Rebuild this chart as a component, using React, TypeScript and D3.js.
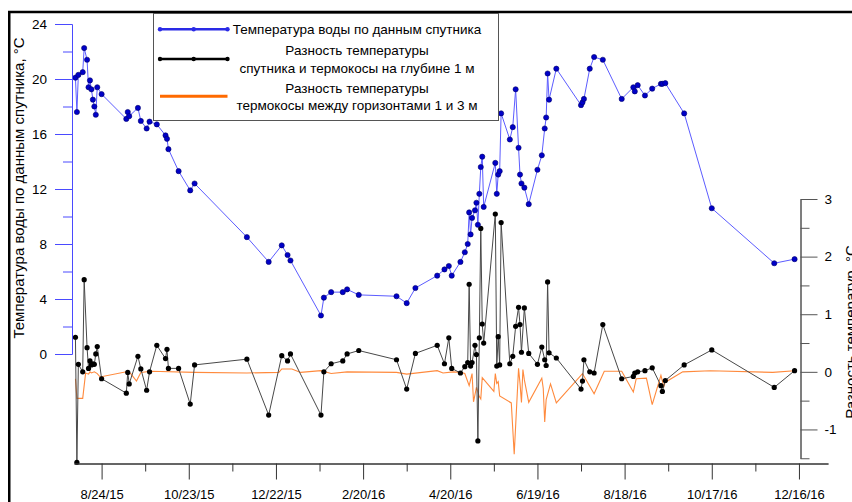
import { useEffect, useRef } from "react";
import * as d3 from "d3";

// sampling dates shared by the satellite series and the satellite - chain difference
const sampleDates = [
  "2015-08-06", "2015-08-07", "2015-08-08", "2015-08-11", "2015-08-12", "2015-08-14",
  "2015-08-15", "2015-08-16", "2015-08-17", "2015-08-18", "2015-08-19", "2015-08-20",
  "2015-08-21", "2015-08-24", "2015-09-10", "2015-09-11", "2015-09-12", "2015-09-18",
  "2015-09-20", "2015-09-24", "2015-09-26", "2015-10-01", "2015-10-07", "2015-10-08",
  "2015-10-09", "2015-10-16", "2015-10-24", "2015-10-27", "2015-12-02", "2015-12-17",
  "2015-12-26", "2015-12-30", "2016-01-01", "2016-01-22", "2016-01-24", "2016-01-29",
  "2016-02-06", "2016-02-09", "2016-02-17", "2016-03-14", "2016-03-21", "2016-03-27",
  "2016-04-11", "2016-04-16", "2016-04-19", "2016-04-21", "2016-04-27", "2016-04-30",
  "2016-05-02", "2016-05-03", "2016-05-04", "2016-05-05", "2016-05-07", "2016-05-08",
  "2016-05-09", "2016-05-10", "2016-05-11", "2016-05-12", "2016-05-13", "2016-05-21",
  "2016-05-22", "2016-05-23", "2016-05-24", "2016-05-25", "2016-05-31", "2016-06-02",
  "2016-06-04", "2016-06-06", "2016-06-07", "2016-06-08", "2016-06-10", "2016-06-13",
  "2016-06-19", "2016-06-22", "2016-06-24", "2016-06-25", "2016-06-26", "2016-06-27",
  "2016-07-02", "2016-07-19", "2016-07-20", "2016-07-21", "2016-07-25", "2016-07-28",
  "2016-08-03", "2016-08-16", "2016-08-24", "2016-08-25", "2016-08-27", "2016-09-01",
  "2016-09-06", "2016-09-12", "2016-09-13", "2016-09-15", "2016-09-28", "2016-10-17",
  "2016-11-29", "2016-12-13",
];

// satellite water temperature, °C (left axis)
const satTemp = [
  20.1, 17.6, 20.3, 20.5, 22.25, 21.4, 19.4, 19.9, 19.25, 18.5, 18.0, 17.4,
  19.4, 18.9, 17.1, 17.6, 17.3, 17.9, 16.95, 16.4, 16.9, 16.7, 15.9, 15.65,
  14.9, 13.3, 11.9, 12.4, 8.5, 6.7, 7.9, 7.2, 6.8, 2.8, 4.1, 4.5,
  4.5, 4.7, 4.3, 4.2, 3.7, 4.8, 5.7, 6.15, 6.4, 5.7, 6.7, 7.4,
  8.0, 10.3, 8.7, 9.9, 10.45, 11.0, 9.4, 11.65, 13.6, 14.35, 10.7, 13.9,
  11.65, 13.05, 13.3, 17.5, 15.6, 16.5, 19.25, 15.0, 13.05, 12.4, 12.1, 10.9,
  13.4, 14.45, 16.4, 17.2, 20.4, 18.5, 20.75, 18.1, 18.3, 18.55, 20.75, 21.6,
  21.4, 18.55, 19.4, 19.1, 19.55, 18.8, 19.3, 19.65, 19.65, 19.7, 17.5, 10.6,
  6.6, 6.9,
];

// satellite minus chain at 1 m, °C (right axis)
const diffSat1m = [
  0.6, -1.57, 0.13, 0.0, 1.6, 0.42, 0.06, 0.19, 0.12, 0.14, 0.13, 0.31,
  0.44, -0.12, -0.37, -0.01, -0.21, 0.27, 0.05, -0.32, 0.0, 0.46, 0.23, 0.39,
  0.06, 0.06, -0.56, 0.12, 0.22, -0.75, 0.28, 0.19, 0.31, -0.75, 0.0, 0.14,
  0.19, 0.31, 0.37, 0.21, -0.3, 0.32, 0.46, 0.14, 0.59, 0.06, -0.02, 0.09,
  0.16, 1.52, 0.1, 0.16, 0.46, 0.3, -1.2, 0.59, 2.49, 0.83, 0.5, 2.74,
  0.1, 0.61, 0.12, 2.59, 0.14, 0.27, 0.79, 1.12, 0.82, 0.34, 1.11, 0.32,
  0.13, 0.43, 0.21, 0.11, 1.56, 0.33, 0.24, -0.3, -0.16, 0.21, 0.0, -0.02,
  0.82, -0.12, -0.08, -0.02, 0.0, 0.02, 0.07, -0.24, -0.34, -0.15, 0.12, 0.38,
  -0.27, 0.02,
];

// chain difference between 1 m and 3 m, °C (right axis)
const chainDates = [
  "2015-08-06", "2015-08-07", "2015-08-11", "2015-08-13", "2015-08-15", "2015-08-16",
  "2015-08-17", "2015-08-19", "2015-08-21", "2015-08-23", "2015-09-10", "2015-09-13",
  "2015-09-17", "2015-09-20", "2015-09-27", "2015-10-27", "2015-12-02", "2015-12-24",
  "2015-12-26", "2016-01-02", "2016-01-08", "2016-01-22", "2016-01-29", "2016-02-09",
  "2016-03-14", "2016-03-21", "2016-04-11", "2016-04-15", "2016-04-22", "2016-04-27",
  "2016-04-30", "2016-05-03", "2016-05-05", "2016-05-06", "2016-05-08", "2016-05-10",
  "2016-05-11", "2016-05-12", "2016-05-20", "2016-05-21", "2016-05-22", "2016-05-23",
  "2016-05-24", "2016-06-01", "2016-06-03", "2016-06-06", "2016-06-07", "2016-06-08",
  "2016-06-09", "2016-06-10", "2016-06-13", "2016-06-22", "2016-06-23", "2016-06-24",
  "2016-06-25", "2016-06-28", "2016-07-02", "2016-07-20", "2016-07-28", "2016-08-04",
  "2016-08-16", "2016-08-24", "2016-08-26", "2016-09-02", "2016-09-06", "2016-09-12",
  "2016-09-14", "2016-09-15", "2016-09-27", "2016-10-16", "2016-11-28", "2016-12-13",
];
const diffChain13 = [
  -0.12, -0.46, -0.46, -0.02, -0.04, 0.0, -0.02, 0.0, -0.03, -0.09, 0.0, -0.03,
  -0.16, -0.01, 0.01, -0.01, -0.02, -0.01, 0.05, 0.05, -0.01, 0.02, -0.03, 0.0,
  -0.01, -0.04, 0.02, -0.02, 0.0, -0.01, -0.03, -0.24, -0.03, -0.52, -0.27, -0.43,
  -0.47, -0.1, -0.34, -0.03, -0.2, -0.17, -0.42, -0.54, -1.43, 0.06, -0.2, -0.53,
  0.04, -0.14, -0.53, -0.11, -0.29, -0.87, -0.48, -0.21, -0.54, -0.03, -0.38, 0.01,
  0.01, -0.35, -0.12, -0.11, -0.57, -0.06, -0.26, -0.18, 0.0, 0.02, -0.01, 0.02,
];

const leftMajor = [0, 4, 8, 12, 16, 20, 24];
const leftMinor = [2, 6, 10, 14, 18, 22];
const rightMajor = [-1, 0, 1, 2, 3];
const rightMinor = [-1.5, -0.5, 0.5, 1.5, 2.5];
const firstTick = "2015-08-24";

const legendItems = [
  { lines: ["Температура воды по данным спутника"], color: "#2a2ae6", dots: true },
  { lines: ["Разность температуры", "спутника и термокосы на глубине 1 м"], color: "#000000", dots: true },
  { lines: ["Разность температуры", "термокосы между горизонтами 1 и 3 м"], color: "#ff6a00", dots: false },
];

const FONT = "'Liberation Sans', Arial, sans-serif";

export default function App() {
  const ref = useRef<SVGSVGElement | null>(null);

  useEffect(() => {
    const svg = d3.select(ref.current);
    svg.selectAll("*").remove();
    const parse = d3.timeParse("%Y-%m-%d");

    const x = d3
      .scaleTime()
      .domain([new Date(2015, 7, 5), new Date(2017, 0, 5)])
      .range([74, 828]);
    const yL = d3.scaleLinear().domain([0, 24]).range([354, 24]);
    const yR = d3.scaleLinear().domain([-1.5, 3]).range([458.25, 199]);

    const samples = sampleDates.map((d, i) => ({
      date: parse(d)!,
      sat: satTemp[i],
      diff: diffSat1m[i],
    }));
    const chain = chainDates.map((d, i) => ({ date: parse(d)!, v: diffChain13[i] }));

    const g = svg.append("g").attr("font-family", FONT);

    // outer frame
    g.append("rect")
      .attr("x", 9.25)
      .attr("y", 12)
      .attr("width", 1000)
      .attr("height", 1000)
      .attr("fill", "none")
      .attr("stroke", "#000")
      .attr("stroke-width", 2.5);

    // series
    g.append("path")
      .datum(chain)
      .attr("fill", "none")
      .attr("stroke", "#ff8a3d")
      .attr("stroke-width", 1.1)
      .attr(
        "d",
        d3.line<{ date: Date; v: number }>().x((d) => x(d.date)).y((d) => yR(d.v)),
      );

    g.append("path")
      .datum(samples)
      .attr("fill", "none")
      .attr("stroke", "#484848")
      .attr("stroke-width", 1)
      .attr("d", d3.line<any>().x((d) => x(d.date)).y((d) => yR(d.diff)));
    g.append("g")
      .selectAll("circle")
      .data(samples)
      .enter()
      .append("circle")
      .attr("cx", (d) => x(d.date))
      .attr("cy", (d) => yR(d.diff))
      .attr("r", 2.6)
      .attr("fill", "#000");

    g.append("path")
      .datum(samples)
      .attr("fill", "none")
      .attr("stroke", "#5c5cff")
      .attr("stroke-width", 1)
      .attr("d", d3.line<any>().x((d) => x(d.date)).y((d) => yL(d.sat)));
    g.append("g")
      .selectAll("circle")
      .data(samples)
      .enter()
      .append("circle")
      .attr("cx", (d) => x(d.date))
      .attr("cy", (d) => yL(d.sat))
      .attr("r", 2.6)
      .attr("fill", "#0000c8")
      .attr("stroke", "#00006a")
      .attr("stroke-width", 0.6);

    const styleAxis = (sel: any, color: string, size: number) => {
      sel.selectAll("line, path").attr("stroke", color);
      sel.selectAll("text").attr("font-size", size).attr("font-family", FONT).attr("fill", "#000");
    };

    // left axis
    g.append("g")
      .attr("transform", "translate(72,0)")
      .call(d3.axisLeft(yL).tickValues(leftMinor).tickSize(9).tickSizeOuter(0).tickFormat(() => ""))
      .call((s: any) => styleAxis(s, "#4a4aff", 13.5));
    g.append("g")
      .attr("transform", "translate(72,0)")
      .call(d3.axisLeft(yL).tickValues(leftMajor).tickSize(17).tickPadding(8).tickSizeOuter(0))
      .call((s: any) => styleAxis(s, "#4a4aff", 13.5));

    // right axis
    g.append("g")
      .attr("transform", "translate(800.5,0)")
      .call(d3.axisRight(yR).tickValues(rightMinor).tickSize(9).tickSizeOuter(0).tickFormat(() => ""))
      .call((s: any) => styleAxis(s, "#555", 13.5));
    g.append("g")
      .attr("transform", "translate(800.5,0)")
      .call(
        d3
          .axisRight(yR)
          .tickValues(rightMajor)
          .tickSize(17)
          .tickPadding(7)
          .tickSizeOuter(0)
          .tickFormat((d: any) => String(d)),
      )
      .call((s: any) => styleAxis(s, "#555", 13.5));

    // bottom axis: ticks every 30 days, labels every 60
    const t0 = parse(firstTick)!;
    const allTicks = d3.range(0, 17).map((i) => d3.timeDay.offset(t0, i * 30));
    const majorTicks = allTicks.filter((_, i) => i % 2 === 0);
    const minorTicks = allTicks.filter((_, i) => i % 2 === 1 && +_ <= +x.domain()[1]);
    const fmt = d3.timeFormat("%-m/%-d/%y");
    g.append("g")
      .attr("transform", "translate(0,463.5)")
      .call(d3.axisBottom(x).tickValues(minorTicks).tickSize(8).tickSizeOuter(0).tickFormat(() => ""))
      .call((s: any) => styleAxis(s, "#333", 13));
    g.append("g")
      .attr("transform", "translate(0,463.5)")
      .call(
        d3
          .axisBottom(x)
          .tickValues(majorTicks)
          .tickSize(16)
          .tickPadding(10)
          .tickSizeOuter(0)
          .tickFormat((d: any) => fmt(d)),
      )
      .call((s: any) => styleAxis(s, "#333", 13));

    // axis titles
    g.append("text")
      .attr("transform", "translate(24,188) rotate(-90)")
      .attr("text-anchor", "middle")
      .attr("font-size", 15)
      .text("Температура воды по данным спутника, °C");
    g.append("text")
      .attr("transform", "translate(856,332) rotate(-90)")
      .attr("text-anchor", "middle")
      .attr("font-size", 15)
      .text("Разность температур, °C");

    // legend
    const lg = g.append("g");
    lg.append("rect")
      .attr("x", 153.5)
      .attr("y", 13.5)
      .attr("width", 345)
      .attr("height", 107)
      .attr("fill", "#fff")
      .attr("stroke", "#555")
      .attr("stroke-width", 1);
    const rowY = [29.3, 59, 96.3];
    const textY = [[34], [55, 72.5], [93, 110]];
    legendItems.forEach((it, i) => {
      lg.append("line")
        .attr("x1", 160)
        .attr("x2", 227.5)
        .attr("y1", rowY[i])
        .attr("y2", rowY[i])
        .attr("stroke", it.color)
        .attr("stroke-width", it.dots ? 2.5 : 3);
      if (it.dots) {
        [160, 193.7, 227.5].forEach((cx) =>
          lg.append("circle").attr("cx", cx).attr("cy", rowY[i]).attr("r", 2.2).attr("fill", it.color),
        );
      }
      it.lines.forEach((t, j) =>
        lg.append("text")
          .attr("x", 357)
          .attr("y", textY[i][j])
          .attr("text-anchor", "middle")
          .attr("font-size", 13.5)
          .text(t),
      );
    });
  }, []);

  return (
    <svg
      ref={ref}
      width={852}
      height={502}
      style={{ position: "absolute", left: 0, top: 0, background: "#fff" }}
    />
  );
}
